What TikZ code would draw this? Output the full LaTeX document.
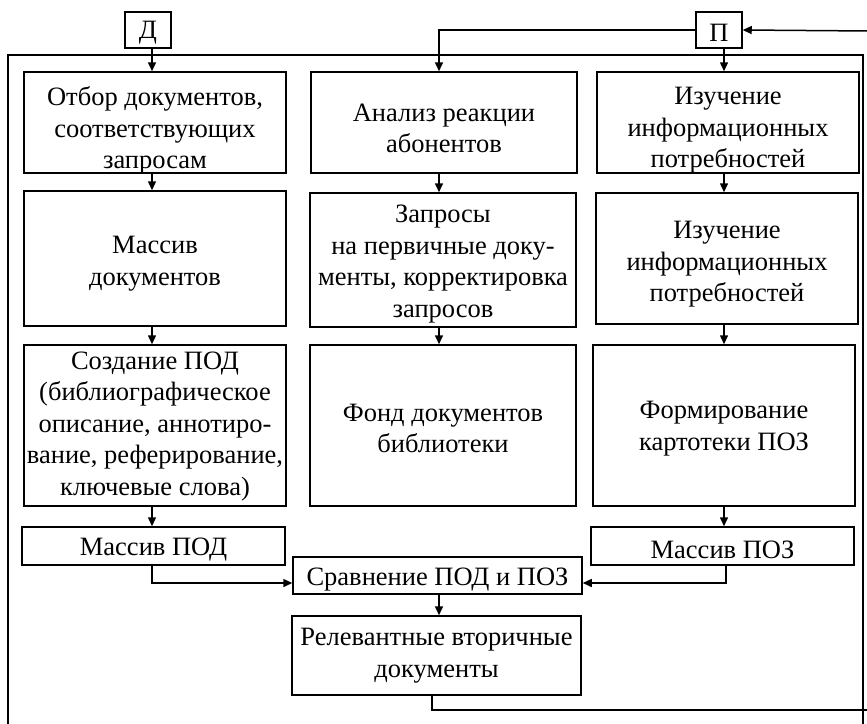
\documentclass[tikz,border=0pt]{standalone}
\usepackage{fontspec}
\setmainfont{Liberation Serif}
\usetikzlibrary{arrows.meta,calc}
\begin{document}
\begin{tikzpicture}[x=1pt,y=-1pt,
  line width=1.5pt,
  box/.style={draw,rectangle,inner sep=0pt},
  txt/.style={inner sep=0pt,align=center,
    font=\fontsize{26.5}{31.5}\selectfont},
  arr/.style={-{Triangle[length=9pt,width=8pt]}}]
\clip (0,0) rectangle (867,723);
\fill[white] (0,0) rectangle (867,723);
% outer frame
\draw (8,740) -- (8,55) -- (863,55) -- (863,740);
% guide coordinates for vertical arrows
\coordinate (c1) at (152,0);
\coordinate (c2) at (439,0);
\coordinate (c3) at (724,0);
% top letters
\node[box,minimum width=46pt,minimum height=36pt] (D) at (148,30) {};
\node[txt] at ([yshift=-3pt]D.center) {Д};
\node[box,minimum width=46pt,minimum height=36pt] (P) at (719,30) {};
\node[txt] at ([yshift=-3pt]P.center) {П};
% column 1
\node[box,minimum width=262pt,minimum height=101pt] (a1) at (155,122.5) {};
\node[txt] at ([yshift=-8pt]a1.center) {Отбор документов,\\соответствующих\\запросам};
\node[box,minimum width=262pt,minimum height=135pt] (a2) at (155,258.5) {};
\node[txt] at ([yshift=-5pt]a2.center) {Массив\\документов};
\node[box,minimum width=262pt,minimum height=161pt] (a3) at (155,425.5) {};
\node[txt] at ([yshift=-1pt]a3.center) {Создание ПОД\\(библиографическое\\описание, аннотиро-\\вание, реферирование,\\ключевые слова)};
\node[box,minimum width=263pt,minimum height=38pt] (a4) at (153.5,546) {};
\node[txt] at ([yshift=-4pt]a4.center) {Массив ПОД};
% column 2
\node[box,minimum width=266pt,minimum height=101pt] (b1) at (444,122.5) {};
\node[txt] at ([yshift=-6pt]b1.center) {Анализ реакции\\абонентов};
\node[box,minimum width=266pt,minimum height=134pt] (b2) at (443,260) {};
\node[txt] at ([yshift=-4pt]b2.center) {Запросы\\на первичные доку-\\менты, корректировка\\запросов};
\node[box,minimum width=266pt,minimum height=161pt] (b3) at (443,425.5) {};
\node[txt] at ([yshift=-3pt]b3.center) {Фонд документов\\библиотеки};
% column 3
\node[box,minimum width=262pt,minimum height=101pt] (d1) at (728,122.5) {};
\node[txt] at ([yshift=-8pt]d1.center) {Изучение\\информационных\\потребностей};
\node[box,minimum width=262pt,minimum height=131pt] (d2) at (727,258.5) {};
\node[txt] at ([yshift=-6pt]d2.center) {Изучение\\информационных\\потребностей};
\node[box,minimum width=262pt,minimum height=161pt] (d3) at (724,425.5) {};
\node[txt] at ([yshift=-3pt]d3.center) {Формирование\\картотеки ПОЗ};
\node[box,minimum width=263pt,minimum height=38pt] (d4) at (722.5,546) {};
\node[txt] at ([yshift=-4pt]d4.center) {Массив ПОЗ};
% bottom
\node[box,minimum width=289pt,minimum height=37pt] (s) at (437.5,575.5) {};
\node[txt] at ([yshift=-4pt]s.center) {Сравнение ПОД и ПОЗ};
\node[box,minimum width=289pt,minimum height=79pt] (r) at (436.5,655.5) {};
\node[txt] at ([yshift=0pt]r.center) {Релевантные вторичные\\документы};
% arrows column 1
\draw[arr] (c1 |- D.south) -- (c1 |- a1.north);
\draw[arr] (c1 |- a1.south) -- (c1 |- a2.north);
\draw[arr] (c1 |- a2.south) -- (c1 |- a3.north);
\draw[arr] (c1 |- a3.south) -- (c1 |- a4.north);
% arrows column 2
\draw[arr] (P.west) -- (c2 |- P.west) -- (c2 |- b1.north);
\draw[arr] (c2 |- b1.south) -- (c2 |- b2.north);
\draw[arr] (c2 |- b2.south) -- (c2 |- b3.north);
% arrows column 3
\draw[arr] (c3 |- P.south) -- (c3 |- d1.north);
\draw[arr] (c3 |- d1.south) -- (c3 |- d2.north);
\draw[arr] (c3 |- d2.south) -- (c3 |- d3.north);
\draw[arr] (c3 |- d3.south) -- (c3 |- d4.north);
% to comparison
\coordinate (jy) at (0,583);
\draw[arr] (c1 |- a4.south) -- (c1 |- jy) -- (s.west |- jy);
\coordinate (c4) at (726,0);
\draw[arr] (c4 |- d4.south) -- (c4 |- jy) -- (s.east |- jy);
\draw[arr] (c2 |- s.south) -- (c2 |- r.north);
% feedback
\coordinate (c5) at (432,0);
\coordinate (fb) at (870,710);
\coordinate (fin) at (870,31);
\draw (c5 |- r.south) -- (c5 |- fb) -- (fb);
\draw[arr] (fin) -- (P.east);
\end{tikzpicture}
\end{document}
